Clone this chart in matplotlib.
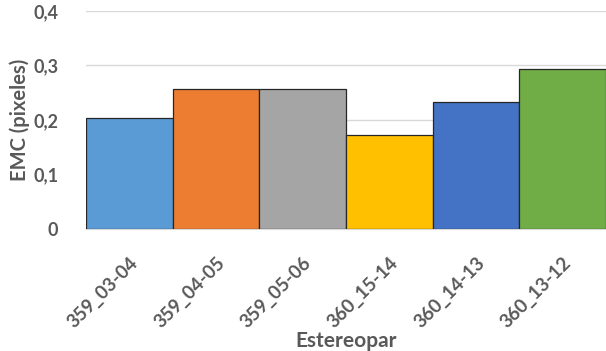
import matplotlib
matplotlib.use("Agg")
import matplotlib.pyplot as plt
from matplotlib.transforms import ScaledTranslation

categories = ["359_03-04", "359_04-05", "359_05-06", "360_15-14", "360_14-13", "360_13-12"]
values = [0.204, 0.256, 0.256, 0.172, 0.233, 0.294]
colors = ["#5B9BD5", "#ED7D31", "#A5A5A5", "#FFC000", "#4472C4", "#70AD47"]
yticks = [0, 0.1, 0.2, 0.3, 0.4]
ytick_labels = ["0", "0,1", "0,2", "0,3", "0,4"]

plt.rcParams['font.family'] = ['Lato', 'DejaVu Sans']
gray = "#595959"

fig = plt.figure(figsize=(6.06, 3.51), dpi=100)
ax = fig.add_axes([0.142, 0.3476, 0.858, 0.6211])
x = range(len(categories))
ax.bar(x, values, width=1.0, color=colors, edgecolor="#262626", linewidth=0.9, zorder=3)
ax.set_xlim(-0.5, len(categories) - 0.5)
ax.set_ylim(0, 0.4)
ax.set_yticks(yticks)
ax.set_yticklabels(ytick_labels, fontsize=13, fontweight="bold", color=gray)
ax.set_xticks(list(x))
ax.set_xticklabels(categories, rotation=45, ha="right", rotation_mode="anchor",
                   fontsize=13.5, fontweight="bold", color=gray)
offset = ScaledTranslation(-0.06, 0, fig.dpi_scale_trans)
for lbl in ax.get_xticklabels():
    lbl.set_transform(lbl.get_transform() + offset)
ax.tick_params(axis="both", length=0)
ax.tick_params(axis="y", pad=20)
ax.tick_params(axis="x", pad=18)
ax.grid(axis="y", color="#D9D9D9", linewidth=1, zorder=0)
for s in ["top", "right", "left"]:
    ax.spines[s].set_visible(False)
ax.spines["bottom"].set_color("#D9D9D9")
ax.set_ylabel("EMC (pixeles)", fontsize=14.5, fontweight="bold", color=gray, labelpad=2)
ax.set_xlabel("Estereopar", fontsize=15, fontweight="bold", color=gray, labelpad=0)

fig.savefig("out.png", dpi=100)
